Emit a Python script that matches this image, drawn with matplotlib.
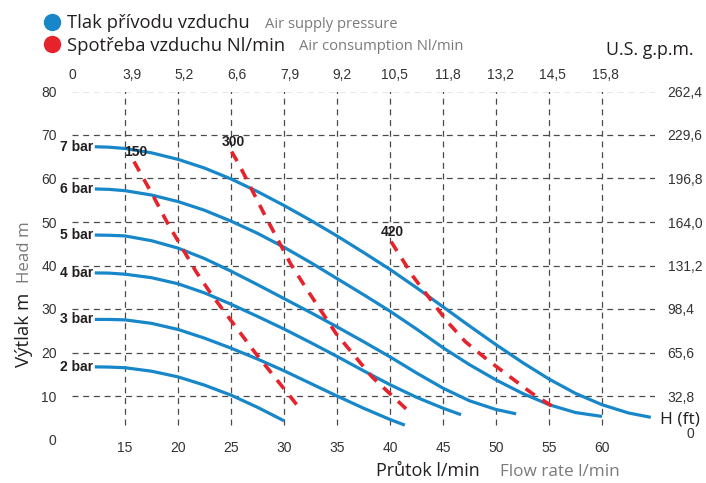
import matplotlib
matplotlib.use("Agg")
import matplotlib.pyplot as plt

plt.rcParams['lines.scale_dashes'] = False

# ---------------- data ----------------
flow_ticks = [15, 20, 25, 30, 35, 40, 45, 50, 55, 60]
head_ticks = [0, 10, 20, 30, 40, 50, 60, 70, 80]
gpm_pos = [9.65, 15.3, 20.3, 25.3, 30.3, 35.3, 40.3, 45.3, 50.3, 55.3, 60.3]
gpm_labels = ['0', '3,9', '5,2', '6,6', '7,9', '9,2', '10,5', '11,8', '13,2', '14,5', '15,8']
ft_pos = [10, 20, 30, 40, 50, 60, 70, 80]
ft_labels = ['32,8', '65,6', '98,4', '131,2', '164,0', '196,8', '229,6', '262,4']

flow_2bar = [12.15, 13.5, 15, 17.5, 20, 22.5, 25, 27.5, 30.0]
head_2bar = [16.7, 16.65, 16.5, 15.7, 14.4, 12.5, 10.2, 7.4, 4.3]

flow_3bar = [12.15, 13.5, 15, 17.5, 20, 22.5, 25, 27.5, 30, 32.5, 35, 37.5, 40, 41.4]
head_3bar = [27.6, 27.6, 27.5, 26.7, 25.3, 23.3, 21.0, 18.5, 15.8, 12.9, 10.0, 7.2, 4.6, 3.3]

flow_4bar = [12.15, 13.5, 15, 17.5, 20, 22.5, 25, 27.5, 30, 32.5, 35, 37.5, 40, 42.5, 45, 46.7]
head_4bar = [38.3, 38.25, 38.0, 37.2, 35.8, 33.7, 31.1, 28.3, 25.4, 22.3, 19.1, 15.8, 12.6, 9.7, 7.2, 5.7]

flow_5bar = [12.15, 13.5, 15, 17.5, 20, 22.5, 25, 27.5, 30, 32.5, 35, 37.5, 40, 42.5, 45, 47.5, 50, 51.9]
head_5bar = [47.0, 46.95, 46.8, 45.7, 44.0, 41.6, 38.7, 35.6, 32.4, 29.2, 25.9, 22.5, 19.0, 15.3, 11.8, 8.9, 6.9, 5.9]

flow_6bar = [12.15, 13.5, 15, 17.5, 20, 22.5, 25, 27.5, 30, 32.5, 35, 37.5, 40, 42.5, 45, 47.5, 50, 52.5, 55, 57.5, 60]
head_6bar = [57.6, 57.5, 57.2, 56.2, 54.7, 52.7, 50.2, 47.4, 44.2, 40.7, 37.0, 33.3, 29.5, 25.4, 21.1, 17.2, 13.7, 10.6, 8.0, 6.2, 5.3]

flow_7bar = [12.15, 13.5, 15, 17.5, 20, 22.5, 25, 27.5, 30, 32.5, 35, 37.5, 40, 42.5, 45, 47.5, 50, 52.5, 55, 57.5, 60, 62.5, 64.6]
head_7bar = [67.3, 67.2, 66.9, 65.9, 64.4, 62.4, 59.9, 57.0, 53.8, 50.4, 46.8, 43.0, 39.1, 34.9, 30.5, 26.1, 21.8, 17.7, 13.9, 10.6, 8.0, 6.1, 5.1]

pressure_names = ['2 bar', '3 bar', '4 bar', '5 bar', '6 bar', '7 bar']

air_150_flow = [15.85, 17.7, 19.0, 21.7, 23.2, 24.8, 27.2, 31.3]
air_150_head = [63.9, 55.8, 49.8, 38.6, 33.2, 28.0, 20.2, 7.7]
air_300_flow = [25.05, 25.7, 28.1, 30.6, 32.0, 34.9, 38.3, 41.8]
air_300_head = [66.2, 63.5, 52.0, 40.5, 35.1, 24.4, 14.4, 6.4]
air_420_flow = [40.1, 42.2, 45.4, 47.1, 49.2, 53.4, 55.8]
air_420_head = [45.5, 37.4, 27.1, 22.5, 18.3, 10.6, 6.9]
air_names = ['150', '300', '420']

# ---------------- style ----------------
BLUE = '#1787c9'
RED = '#e6222b'
GRID = '#4a4a4a'
DARK = '#231f20'
GREY = '#7a7a7a'
NUM = '#333333'
HUM = 'Open Sans'
ARIAL = 'Liberation Sans'

W, H = 706, 483
fig = plt.figure(figsize=(W / 100, H / 100), dpi=100)
ax = fig.add_axes([72 / W, (H - 439.5) / H, 583 / W, 348 / H])
x_lo, x_hi = 10, 65
y_lo, y_hi = 0, 80
ax.set_xlim(x_lo, x_hi)
ax.set_ylim(y_lo, y_hi)
for s in ax.spines.values():
    s.set_visible(False)

# grid
ax.hlines(head_ticks[1:], x_lo, x_hi, colors=GRID, linewidth=0.9,
          linestyles=[(0, (4.3, 3.4))], zorder=1)
ax.vlines(flow_ticks, 3.3, y_hi, colors=GRID, linewidth=0.9,
          linestyles=[(0, (4.3, 3.4))], zorder=1)

# pressure curves
curves = [(flow_2bar, head_2bar), (flow_3bar, head_3bar), (flow_4bar, head_4bar),
          (flow_5bar, head_5bar), (flow_6bar, head_6bar), (flow_7bar, head_7bar)]
for (fx_, hy), name in zip(curves, pressure_names):
    ax.plot(fx_, hy, color=BLUE, linewidth=2.3, solid_capstyle='butt',
            solid_joinstyle='round', zorder=3)
    ax.text(fx_[0] - 0.15, hy[0], name, ha='right', va='center', fontsize=10,
            fontweight='bold', family=ARIAL, color=DARK)

# air consumption lines
airs = [(air_150_flow, air_150_head), (air_300_flow, air_300_head), (air_420_flow, air_420_head)]
for (fx_, hy), name in zip(airs, air_names):
    ax.plot(fx_, hy, color=RED, linewidth=2.6, linestyle=(0, (8, 6.5)),
            dash_capstyle='butt', zorder=4)
    ax.text(fx_[0] + 0.15, hy[0] + 2.2, name, ha='center', va='center', fontsize=10,
            fontweight='bold', family=ARIAL, color=DARK, zorder=5)

# bottom / left ticks
ax.set_xticks(flow_ticks)
ax.set_xticklabels([str(v) for v in flow_ticks], family=ARIAL, fontsize=10, color=NUM)
ax.set_yticks(head_ticks)
ax.set_yticklabels([str(v) for v in head_ticks], family=ARIAL, fontsize=10, color=NUM)
ax.tick_params(axis='x', length=0, pad=1)
ax.tick_params(axis='y', length=0, pad=11)

# top axis (US gpm)
axt = ax.twiny()
axt.set_xlim(x_lo, x_hi)
axt.set_xticks(gpm_pos)
axt.set_xticklabels(gpm_labels, family=ARIAL, fontsize=10, color=NUM)
axt.tick_params(axis='x', length=0, pad=7)
for s in axt.spines.values():
    s.set_visible(False)

# right axis (ft)
axr = ax.twinx()
axr.set_ylim(y_lo, y_hi)
axr.set_yticks(ft_pos)
axr.set_yticklabels(ft_labels, family=ARIAL, fontsize=10, color=NUM)
axr.tick_params(axis='y', length=0, pad=9)
for s in axr.spines.values():
    s.set_visible(False)

def fx(px):
    return px / W

def fy(py):
    return 1 - py / H

fig.text(fx(660), fy(423), 'H (ft)', family=HUM, fontsize=12.5, color=DARK,
         ha='left', va='baseline')
fig.text(fx(690.5), fy(434.5), '0', family=ARIAL, fontsize=10, color=NUM,
         ha='center', va='center')

# legend
fig.add_artist(plt.Line2D([fx(51.7)], [fy(21.7)], marker='o', markersize=11.5,
                          color=BLUE, linestyle='none'))
fig.add_artist(plt.Line2D([fx(51.7)], [fy(44.2)], marker='o', markersize=11.5,
                          color=RED, linestyle='none'))
fig.text(fx(67), fy(28.3), 'Tlak přívodu vzduchu', family=HUM, fontsize=13.2,
         color=DARK, ha='left', va='baseline')
fig.text(fx(265), fy(27.5), 'Air supply pressure', family=HUM, fontsize=10.6,
         color=GREY, ha='left', va='baseline')
fig.text(fx(67), fy(50.8), 'Spotřeba vzduchu Nl/min', family=HUM, fontsize=13.2,
         color=DARK, ha='left', va='baseline')
fig.text(fx(299), fy(50.0), 'Air consumption Nl/min', family=HUM, fontsize=10.6,
         color=GREY, ha='left', va='baseline')
fig.text(fx(606), fy(55.5), 'U.S. g.p.m.', family=HUM, fontsize=12.8,
         color=DARK, ha='left', va='baseline')

# axis titles
fig.text(fx(376), fy(476.5), 'Průtok l/min', family=HUM, fontsize=13,
         color=DARK, ha='left', va='baseline')
fig.text(fx(500), fy(476.5), 'Flow rate l/min', family=HUM, fontsize=12.3,
         color=GREY, ha='left', va='baseline')
fig.text(fx(29), fy(367), 'Výtlak m', family=HUM, fontsize=13.5, color=DARK,
         rotation=90, rotation_mode='anchor', ha='left', va='baseline')
fig.text(fx(29), fy(283), 'Head m', family=HUM, fontsize=12.2, color=GREY,
         rotation=90, rotation_mode='anchor', ha='left', va='baseline')

fig.savefig('out.png', dpi=100)
